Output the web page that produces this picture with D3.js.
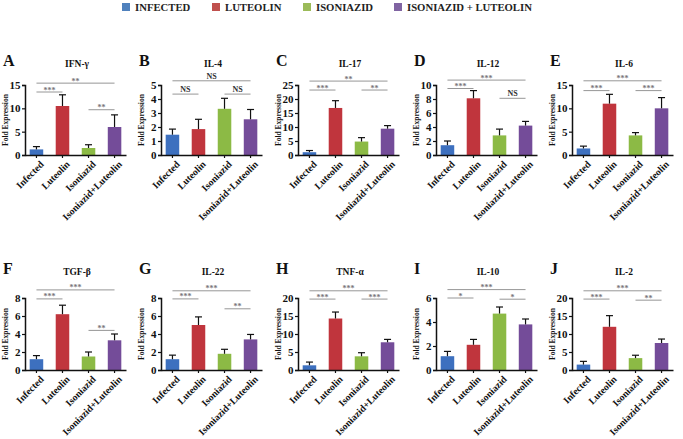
<!DOCTYPE html>
<html><head><meta charset="utf-8">
<script src="https://cdn.jsdelivr.net/npm/d3@7"></script>
<style>body{margin:0;background:#fff}svg{display:block}</style>
</head><body>
<svg id="chart" width="683" height="439"></svg>
<script>
// ---- data ----
const categories = ["Infected", "Luteolin", "Isoniazid", "Isoniazid+Luteolin"];
const legendLabels = ["INFECTED", "LUTEOLIN", "ISONIAZID", "ISONIAZID + LUTEOLIN"];
const panelLetters = ["A", "B", "C", "D", "E", "F", "G", "H", "I", "J"];
const panelTitles = ["IFN-γ", "IL-4", "IL-17", "IL-12", "IL-6", "TGF-β", "IL-22", "TNF-α", "IL-10", "IL-2"];
const yMax = [15, 5, 25, 10, 15, 8, 8, 20, 6, 20];
const yStep = [5, 1, 5, 2, 5, 2, 2, 5, 2, 5];
const means = [
  [1.2, 10.5, 1.5, 6.0],
  [1.45, 1.85, 3.3, 2.55],
  [1.0, 16.8, 4.8, 9.4],
  [1.4, 8.1, 2.8, 4.2],
  [1.4, 11.0, 4.2, 10.0],
  [1.2, 6.2, 1.5, 3.3],
  [1.2, 5.0, 1.8, 3.4],
  [1.3, 14.3, 3.8, 7.7],
  [1.15, 2.1, 4.7, 3.8],
  [1.5, 12.0, 3.3, 7.5]
];
const errors = [
  [0.6, 2.4, 0.7, 2.6],
  [0.4, 0.7, 0.75, 0.7],
  [0.6, 2.6, 1.4, 1.1],
  [0.6, 1.1, 0.9, 0.6],
  [0.5, 2.0, 0.6, 2.3],
  [0.4, 1.0, 0.5, 0.7],
  [0.45, 0.9, 0.5, 0.55],
  [0.9, 1.8, 1.0, 0.8],
  [0.4, 0.45, 0.55, 0.45],
  [0.9, 3.1, 0.8, 1.1]
];
// significance brackets: [from index, to index]
const sigPairs = [[0, 1], [2, 3], [0, 3]];
const sigLevels = [
  [13.5, 9.7, 15.4],
  [4.35, 4.35, 5.3],
  [23.2, 23.2, 26.4],
  [9.5, 8.1, 10.7],
  [13.8, 13.8, 15.9],
  [7.9, 4.4, 8.9],
  [7.9, 6.8, 8.8],
  [19.7, 19.7, 22],
  [6.0, 5.9, 6.7],
  [19.7, 19.4, 22]
];
const sigLabels = [
  ["***", "**", "**"],
  ["NS", "NS", "NS"],
  ["***", "**", "**"],
  ["***", "NS", "***"],
  ["***", "***", "***"],
  ["***", "**", "***"],
  ["***", "**", "***"],
  ["***", "***", "***"],
  ["*", "*", "***"],
  ["***", "**", "***"]
];
const barColors = ["#3d70bf", "#c0353d", "#8cba45", "#744c99"];
const legendColors = ["#4f81bd", "#c0504d", "#9bbb59", "#8064a2"];

// ---- layout ----
const svg = d3.select("#chart");
const serif = "'Liberation Serif','Times New Roman',serif";
const colX = [25, 161, 298, 436, 572];
const plotW = 101;
const rowTop = [85, 298];
const rowBottom = [155, 370];
const titleY = [66, 274];

// legend
const legendX = [122, 212, 303, 394];
const lg = svg.append("g");
legendLabels.forEach((lab, i) => {
  lg.append("rect").attr("x", legendX[i]).attr("y", 3).attr("width", 8).attr("height", 8)
    .attr("fill", legendColors[i]);
  lg.append("text").attr("x", legendX[i] + 13).attr("y", 11)
    .attr("font-family", serif).attr("font-weight", "bold").attr("font-size", 10.7)
    .attr("fill", "#222").text(lab);
});

panelTitles.forEach((title, p) => {
  const row = Math.floor(p / 5), col = p % 5;
  const x0 = colX[col];
  const top = rowTop[row], bottom = rowBottom[row];
  const g = svg.append("g");

  const x = d3.scaleBand().domain(categories).range([x0, x0 + plotW])
    .paddingInner(0.48).paddingOuter(0.18);
  const y = d3.scaleLinear().domain([0, yMax[p]]).range([bottom, top]);

  // letter + title
  g.append("text").attr("x", x0 - 22).attr("y", titleY[row])
    .attr("font-family", serif).attr("font-weight", "bold").attr("font-size", 16)
    .attr("fill", "#111").text(panelLetters[p]);
  g.append("text").attr("x", x0 + 52).attr("y", titleY[row] + 1).attr("text-anchor", "middle")
    .attr("font-family", serif).attr("font-weight", "bold").attr("font-size", 9.5)
    .attr("fill", "#111").text(title);

  // y label
  g.append("text")
    .attr("transform", `translate(${x0 - 17},${(top + bottom) / 2}) rotate(-90)`)
    .attr("text-anchor", "middle")
    .attr("font-family", serif).attr("font-weight", "bold").attr("font-size", 7.5)
    .attr("fill", "#111").text("Fold Expression");

  // bars
  g.selectAll("rect.bar").data(categories).enter().append("rect")
    .attr("x", d => x(d)).attr("width", x.bandwidth())
    .attr("y", (d, i) => y(means[p][i]))
    .attr("height", (d, i) => bottom - y(means[p][i]))
    .attr("fill", (d, i) => barColors[i]);

  // error bars (upper only)
  categories.forEach((c, i) => {
    const cx = x(c) + x.bandwidth() / 2;
    const yt = y(means[p][i] + errors[p][i]);
    g.append("line").attr("x1", cx).attr("x2", cx)
      .attr("y1", y(means[p][i])).attr("y2", yt)
      .attr("stroke", "#111").attr("stroke-width", 1.2);
    g.append("line").attr("x1", cx - 3.5).attr("x2", cx + 3.5)
      .attr("y1", yt).attr("y2", yt)
      .attr("stroke", "#111").attr("stroke-width", 1.2);
  });

  // axes
  const ticks = d3.range(0, yMax[p] + 1e-9, yStep[p]);
  const yAxis = d3.axisLeft(y).tickValues(ticks).tickFormat(d3.format("d")).tickSize(3).tickPadding(1.5);
  const ya = g.append("g").attr("transform", `translate(${x0},0)`).call(yAxis);
  ya.select(".domain").attr("stroke", "#111").attr("stroke-width", 1.5);
  ya.selectAll(".tick line").attr("stroke", "#111").attr("stroke-width", 1.2);
  ya.selectAll(".tick text").attr("font-family", serif).attr("font-weight", "bold")
    .attr("font-size", 11).attr("fill", "#111");

  const xAxis = d3.axisBottom(x).tickSize(3).tickSizeOuter(0).tickPadding(2);
  const xa = g.append("g").attr("transform", `translate(0,${bottom})`).call(xAxis);
  xa.select(".domain").attr("stroke", "#111").attr("stroke-width", 1.5);
  xa.selectAll(".tick line").attr("stroke", "#111").attr("stroke-width", 1.2);
  xa.selectAll(".tick text")
    .attr("font-family", serif).attr("font-weight", "bold").attr("font-size", 9.8)
    .attr("fill", "#111")
    .attr("text-anchor", "end")
    .attr("dy", "0.35em")
    .attr("transform", "translate(2,4) rotate(-45)");

  // significance brackets
  sigPairs.forEach((pair, k) => {
    const xa1 = x(categories[pair[0]]) + x.bandwidth() / 2;
    const xa2 = x(categories[pair[1]]) + x.bandwidth() / 2;
    const yy = y(sigLevels[p][k]);
    g.append("line").attr("x1", xa1).attr("x2", xa2).attr("y1", yy).attr("y2", yy)
      .attr("stroke", "#8a8a8a").attr("stroke-width", 0.9);
    const lab = sigLabels[p][k];
    g.append("text").attr("x", (xa1 + xa2) / 2).attr("y", lab === "NS" ? yy - 2 : yy + 0.5)
      .attr("text-anchor", "middle")
      .attr("font-family", serif).attr("font-weight", "bold")
      .attr("font-size", 8)
      .attr("fill", lab === "NS" ? "#333" : "#777").text(lab);
  });
});
</script>
</body></html>
